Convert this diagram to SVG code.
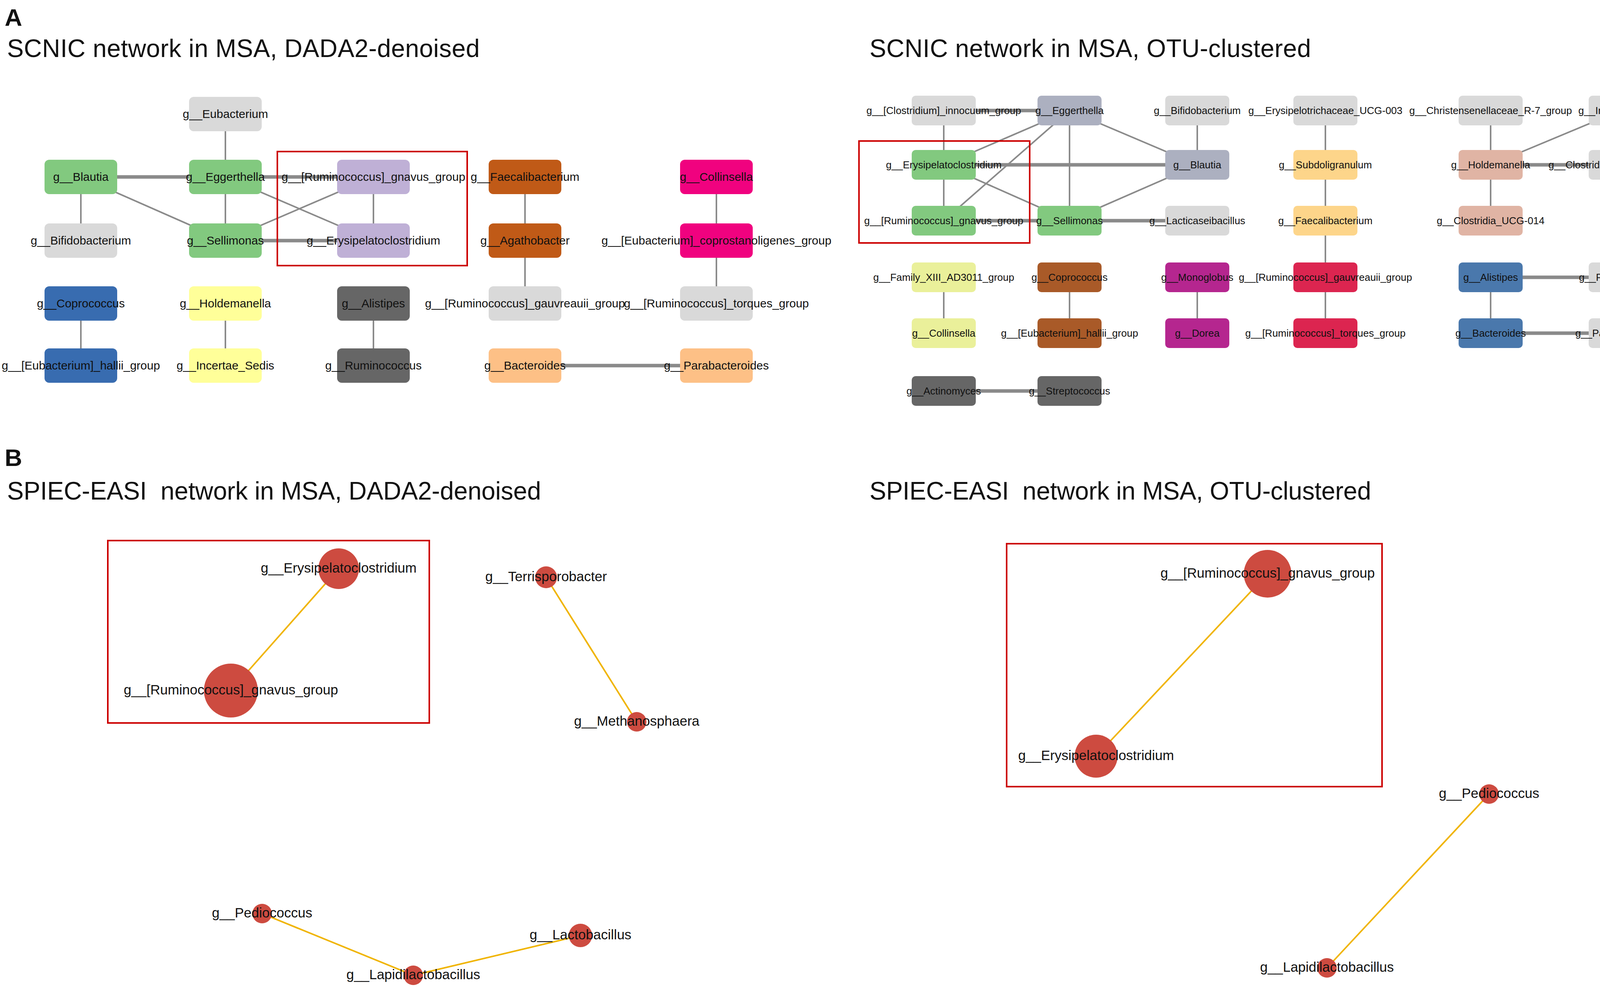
<svg xmlns="http://www.w3.org/2000/svg" width="4328" height="2527" viewBox="0 0 4328 2527">
<style>
text{font-family:"Liberation Sans",Arial,sans-serif;fill:#111}
.t{font-size:64px}
.h{font-size:62px;font-weight:bold}
.n{font-size:30px;text-anchor:middle}
.m{font-size:26px;text-anchor:middle}
.b{font-size:35px;text-anchor:middle}
.e{stroke:#8a8a8a;stroke-width:4;fill:none}
.k{stroke:#8a8a8a;stroke-width:9;fill:none}
.y{stroke:#f0b400;stroke-width:4;fill:none}
.r{fill:none;stroke:#cc0000;stroke-width:4}
.c{fill:#cd4b40}
</style>
<text class="h" x="12" y="66">A</text>
<text class="t" x="18" y="146" textLength="1210">SCNIC network in MSA, DADA2-denoised</text>
<text class="t" x="2226" y="146" textLength="1130">SCNIC network in MSA, OTU-clustered</text>
<text class="h" x="12" y="1193">B</text>
<text class="t" x="18" y="1279" textLength="1367" xml:space="preserve">SPIEC-EASI  network in MSA, DADA2-denoised</text>
<text class="t" x="2226" y="1279" textLength="1284" xml:space="preserve">SPIEC-EASI  network in MSA, OTU-clustered</text>

<g id="connectors">
<line class="k" x1="207" y1="453" x2="577" y2="453"/>
<line class="e" x1="207" y1="453" x2="207" y2="616"/>
<line class="e" x1="207" y1="453" x2="577" y2="616"/>
<line class="e" x1="577" y1="292" x2="577" y2="453"/>
<line class="k" x1="577" y1="453" x2="956" y2="453"/>
<line class="e" x1="577" y1="453" x2="577" y2="616"/>
<line class="e" x1="577" y1="453" x2="956" y2="616"/>
<line class="e" x1="577" y1="616" x2="956" y2="453"/>
<line class="k" x1="577" y1="616" x2="956" y2="616"/>
<line class="e" x1="956" y1="453" x2="956" y2="616"/>
<line class="e" x1="1344" y1="453" x2="1344" y2="777"/>
<line class="e" x1="1834" y1="453" x2="1834" y2="777"/>
<line class="e" x1="207" y1="777" x2="207" y2="936"/>
<line class="e" x1="577" y1="777" x2="577" y2="936"/>
<line class="e" x1="956" y1="777" x2="956" y2="936"/>
<line class="k" x1="1344" y1="936" x2="1834" y2="936"/>
<line class="k" x1="2416" y1="283" x2="2738" y2="283"/>
<line class="e" x1="2416" y1="283" x2="2416" y2="565"/>
<line class="e" x1="2738" y1="283" x2="2416" y2="422"/>
<line class="e" x1="2738" y1="283" x2="2416" y2="565"/>
<line class="e" x1="2738" y1="283" x2="2738" y2="565"/>
<line class="e" x1="2738" y1="283" x2="3065" y2="422"/>
<line class="e" x1="3065" y1="283" x2="3065" y2="422"/>
<line class="k" x1="2416" y1="422" x2="3065" y2="422"/>
<line class="e" x1="2416" y1="422" x2="2738" y2="565"/>
<line class="e" x1="2738" y1="565" x2="3065" y2="422"/>
<line class="k" x1="2416" y1="565" x2="2738" y2="565"/>
<line class="k" x1="2738" y1="565" x2="3065" y2="565"/>
<line class="e" x1="3393" y1="283" x2="3393" y2="853"/>
<line class="e" x1="3816" y1="283" x2="3816" y2="565"/>
<line class="e" x1="4149" y1="283" x2="3816" y2="422"/>
<line class="k" x1="3816" y1="422" x2="4149" y2="422"/>
<line class="e" x1="2416" y1="710" x2="2416" y2="853"/>
<line class="e" x1="2738" y1="710" x2="2738" y2="853"/>
<line class="e" x1="3065" y1="710" x2="3065" y2="853"/>
<line class="k" x1="3816" y1="710" x2="4149" y2="710"/>
<line class="e" x1="3816" y1="710" x2="3816" y2="853"/>
<line class="k" x1="3816" y1="853" x2="4149" y2="853"/>
<line class="k" x1="2416" y1="1001" x2="2738" y2="1001"/>
<line class="y" x1="867" y1="1456" x2="591" y2="1768"/>
<line class="y" x1="1398" y1="1478" x2="1630" y2="1848"/>
<line class="y" x1="671" y1="2339" x2="1058" y2="2497"/>
<line class="y" x1="1058" y1="2497" x2="1486" y2="2395"/>
<line class="y" x1="3245" y1="1469" x2="2806" y2="1936"/>
<line class="y" x1="3812" y1="2033" x2="3397" y2="2478"/>
</g>

<g id="L_Eubacterium"><rect x="484" y="248" width="186" height="88" rx="12" fill="#d9d9d9"/><text class="n" x="577" y="302">g__Eubacterium</text></g>
<g id="L_Blautia"><rect x="114" y="409" width="186" height="88" rx="12" fill="#82c97f"/><text class="n" x="207" y="463">g__Blautia</text></g>
<g id="L_Eggerthella"><rect x="484" y="409" width="186" height="88" rx="12" fill="#82c97f"/><text class="n" x="577" y="463">g__Eggerthella</text></g>
<g id="L_gnavus"><rect x="863" y="409" width="186" height="88" rx="12" fill="#bfb0d6"/><text class="n" x="956" y="463">g__[Ruminococcus]_gnavus_group</text></g>
<g id="L_Faecalibacterium"><rect x="1251" y="409" width="186" height="88" rx="12" fill="#c05a17"/><text class="n" x="1344" y="463">g__Faecalibacterium</text></g>
<g id="L_Collinsella"><rect x="1741" y="409" width="186" height="88" rx="12" fill="#f0027f"/><text class="n" x="1834" y="463">g__Collinsella</text></g>
<g id="L_Bifidobacterium"><rect x="114" y="572" width="186" height="88" rx="12" fill="#d9d9d9"/><text class="n" x="207" y="626">g__Bifidobacterium</text></g>
<g id="L_Sellimonas"><rect x="484" y="572" width="186" height="88" rx="12" fill="#82c97f"/><text class="n" x="577" y="626">g__Sellimonas</text></g>
<g id="L_Erysipelatoclostridium"><rect x="863" y="572" width="186" height="88" rx="12" fill="#bfb0d6"/><text class="n" x="956" y="626">g__Erysipelatoclostridium</text></g>
<g id="L_Agathobacter"><rect x="1251" y="572" width="186" height="88" rx="12" fill="#c05a17"/><text class="n" x="1344" y="626">g__Agathobacter</text></g>
<g id="L_coprostanoligenes"><rect x="1741" y="572" width="186" height="88" rx="12" fill="#f0027f"/><text class="n" x="1834" y="626">g__[Eubacterium]_coprostanoligenes_group</text></g>
<g id="L_Coprococcus"><rect x="114" y="733" width="186" height="88" rx="12" fill="#386cb0"/><text class="n" x="207" y="787">g__Coprococcus</text></g>
<g id="L_Holdemanella"><rect x="484" y="733" width="186" height="88" rx="12" fill="#ffff99"/><text class="n" x="577" y="787">g__Holdemanella</text></g>
<g id="L_Alistipes"><rect x="863" y="733" width="186" height="88" rx="12" fill="#666666"/><text class="n" x="956" y="787">g__Alistipes</text></g>
<g id="L_gauvreauii"><rect x="1251" y="733" width="186" height="88" rx="12" fill="#d9d9d9"/><text class="n" x="1344" y="787">g__[Ruminococcus]_gauvreauii_group</text></g>
<g id="L_torques"><rect x="1741" y="733" width="186" height="88" rx="12" fill="#d9d9d9"/><text class="n" x="1834" y="787">g__[Ruminococcus]_torques_group</text></g>
<g id="L_hallii"><rect x="114" y="892" width="186" height="88" rx="12" fill="#386cb0"/><text class="n" x="207" y="946">g__[Eubacterium]_hallii_group</text></g>
<g id="L_Incertae_Sedis"><rect x="484" y="892" width="186" height="88" rx="12" fill="#ffff99"/><text class="n" x="577" y="946">g__Incertae_Sedis</text></g>
<g id="L_Ruminococcus"><rect x="863" y="892" width="186" height="88" rx="12" fill="#666666"/><text class="n" x="956" y="946">g__Ruminococcus</text></g>
<g id="L_Bacteroides"><rect x="1251" y="892" width="186" height="88" rx="12" fill="#fdc086"/><text class="n" x="1344" y="946">g__Bacteroides</text></g>
<g id="L_Parabacteroides"><rect x="1741" y="892" width="186" height="88" rx="12" fill="#fdc086"/><text class="n" x="1834" y="946">g__Parabacteroides</text></g>
<rect class="r" x="710" y="388" width="486" height="292"/>

<g id="R_innocuum"><rect x="2334" y="245" width="164" height="76" rx="10" fill="#d9d9d9"/><text class="m" x="2416" y="292">g__[Clostridium]_innocuum_group</text></g>
<g id="R_Eggerthella"><rect x="2656" y="245" width="164" height="76" rx="10" fill="#acb0c0"/><text class="m" x="2738" y="292">g__Eggerthella</text></g>
<g id="R_Bifidobacterium"><rect x="2983" y="245" width="164" height="76" rx="10" fill="#d9d9d9"/><text class="m" x="3065" y="292">g__Bifidobacterium</text></g>
<g id="R_UCG003"><rect x="3311" y="245" width="164" height="76" rx="10" fill="#d9d9d9"/><text class="m" x="3393" y="292">g__Erysipelotrichaceae_UCG-003</text></g>
<g id="R_Christensenellaceae"><rect x="3734" y="245" width="164" height="76" rx="10" fill="#d9d9d9"/><text class="m" x="3816" y="292">g__Christensenellaceae_R-7_group</text></g>
<g id="R_Incertae_Sedis"><rect x="4067" y="245" width="164" height="76" rx="10" fill="#d9d9d9"/><text class="m" x="4149" y="292">g__Incertae_Sedis</text></g>
<g id="R_Erysipelatoclostridium"><rect x="2334" y="384" width="164" height="76" rx="10" fill="#82c97f"/><text class="m" x="2416" y="431">g__Erysipelatoclostridium</text></g>
<g id="R_Blautia"><rect x="2983" y="384" width="164" height="76" rx="10" fill="#acb0c0"/><text class="m" x="3065" y="431">g__Blautia</text></g>
<g id="R_Subdoligranulum"><rect x="3311" y="384" width="164" height="76" rx="10" fill="#fdd58a"/><text class="m" x="3393" y="431">g__Subdoligranulum</text></g>
<g id="R_Holdemanella"><rect x="3734" y="384" width="164" height="76" rx="10" fill="#e0b4a4"/><text class="m" x="3816" y="431">g__Holdemanella</text></g>
<g id="R_Clostridium_ss1"><rect x="4067" y="384" width="164" height="76" rx="10" fill="#d9d9d9"/><text class="m" x="4149" y="431">g__Clostridium_sensu_stricto_1</text></g>
<g id="R_gnavus"><rect x="2334" y="527" width="164" height="76" rx="10" fill="#82c97f"/><text class="m" x="2416" y="574">g__[Ruminococcus]_gnavus_group</text></g>
<g id="R_Sellimonas"><rect x="2656" y="527" width="164" height="76" rx="10" fill="#82c97f"/><text class="m" x="2738" y="574">g__Sellimonas</text></g>
<g id="R_Lacticaseibacillus"><rect x="2983" y="527" width="164" height="76" rx="10" fill="#d9d9d9"/><text class="m" x="3065" y="574">g__Lacticaseibacillus</text></g>
<g id="R_Faecalibacterium"><rect x="3311" y="527" width="164" height="76" rx="10" fill="#fdd58a"/><text class="m" x="3393" y="574">g__Faecalibacterium</text></g>
<g id="R_Clostridia_UCG014"><rect x="3734" y="527" width="164" height="76" rx="10" fill="#e0b4a4"/><text class="m" x="3816" y="574">g__Clostridia_UCG-014</text></g>
<g id="R_FamilyXIII"><rect x="2334" y="672" width="164" height="76" rx="10" fill="#eaf09a"/><text class="m" x="2416" y="719">g__Family_XIII_AD3011_group</text></g>
<g id="R_Coprococcus"><rect x="2656" y="672" width="164" height="76" rx="10" fill="#a95a28"/><text class="m" x="2738" y="719">g__Coprococcus</text></g>
<g id="R_Monoglobus"><rect x="2983" y="672" width="164" height="76" rx="10" fill="#b5268f"/><text class="m" x="3065" y="719">g__Monoglobus</text></g>
<g id="R_gauvreauii"><rect x="3311" y="672" width="164" height="76" rx="10" fill="#dc2550"/><text class="m" x="3393" y="719">g__[Ruminococcus]_gauvreauii_group</text></g>
<g id="R_Alistipes"><rect x="3734" y="672" width="164" height="76" rx="10" fill="#4a78ac"/><text class="m" x="3816" y="719">g__Alistipes</text></g>
<g id="R_Ruminococcus"><rect x="4067" y="672" width="164" height="76" rx="10" fill="#d9d9d9"/><text class="m" x="4149" y="719">g__Ruminococcus</text></g>
<g id="R_Collinsella"><rect x="2334" y="815" width="164" height="76" rx="10" fill="#eaf09a"/><text class="m" x="2416" y="862">g__Collinsella</text></g>
<g id="R_hallii"><rect x="2656" y="815" width="164" height="76" rx="10" fill="#a95a28"/><text class="m" x="2738" y="862">g__[Eubacterium]_hallii_group</text></g>
<g id="R_Dorea"><rect x="2983" y="815" width="164" height="76" rx="10" fill="#b5268f"/><text class="m" x="3065" y="862">g__Dorea</text></g>
<g id="R_torques"><rect x="3311" y="815" width="164" height="76" rx="10" fill="#dc2550"/><text class="m" x="3393" y="862">g__[Ruminococcus]_torques_group</text></g>
<g id="R_Bacteroides"><rect x="3734" y="815" width="164" height="76" rx="10" fill="#4a78ac"/><text class="m" x="3816" y="862">g__Bacteroides</text></g>
<g id="R_Parabacteroides"><rect x="4067" y="815" width="164" height="76" rx="10" fill="#d9d9d9"/><text class="m" x="4149" y="862">g__Parabacteroides</text></g>
<g id="R_Actinomyces"><rect x="2334" y="963" width="164" height="76" rx="10" fill="#666666"/><text class="m" x="2416" y="1010">g__Actinomyces</text></g>
<g id="R_Streptococcus"><rect x="2656" y="963" width="164" height="76" rx="10" fill="#666666"/><text class="m" x="2738" y="1010">g__Streptococcus</text></g>
<rect class="r" x="2199" y="361" width="437" height="261"/>

<g id="B1_Erysipelatoclostridium"><circle class="c" cx="867" cy="1456" r="52"/><text class="b" x="867" y="1466">g__Erysipelatoclostridium</text></g>
<g id="B1_gnavus"><circle class="c" cx="591" cy="1768" r="69"/><text class="b" x="591" y="1778">g__[Ruminococcus]_gnavus_group</text></g>
<g id="B1_Terrisporobacter"><circle class="c" cx="1398" cy="1478" r="28"/><text class="b" x="1398" y="1488">g__Terrisporobacter</text></g>
<g id="B1_Methanosphaera"><circle class="c" cx="1630" cy="1848" r="25"/><text class="b" x="1630" y="1858">g__Methanosphaera</text></g>
<g id="B1_Pediococcus"><circle class="c" cx="671" cy="2339" r="25"/><text class="b" x="671" y="2349">g__Pediococcus</text></g>
<g id="B1_Lapidilactobacillus"><circle class="c" cx="1058" cy="2497" r="25"/><text class="b" x="1058" y="2507">g__Lapidilactobacillus</text></g>
<g id="B1_Lactobacillus"><circle class="c" cx="1486" cy="2395" r="30"/><text class="b" x="1486" y="2405">g__Lactobacillus</text></g>
<rect class="r" x="276" y="1384" width="823" height="467"/>
<g id="B2_gnavus"><circle class="c" cx="3245" cy="1469" r="61"/><text class="b" x="3245" y="1479">g__[Ruminococcus]_gnavus_group</text></g>
<g id="B2_Erysipelatoclostridium"><circle class="c" cx="2806" cy="1936" r="55"/><text class="b" x="2806" y="1946">g__Erysipelatoclostridium</text></g>
<g id="B2_Pediococcus"><circle class="c" cx="3812" cy="2033" r="25"/><text class="b" x="3812" y="2043">g__Pediococcus</text></g>
<g id="B2_Lapidilactobacillus"><circle class="c" cx="3397" cy="2478" r="25"/><text class="b" x="3397" y="2488">g__Lapidilactobacillus</text></g>
<rect class="r" x="2577" y="1392" width="961" height="622"/>
</svg>
